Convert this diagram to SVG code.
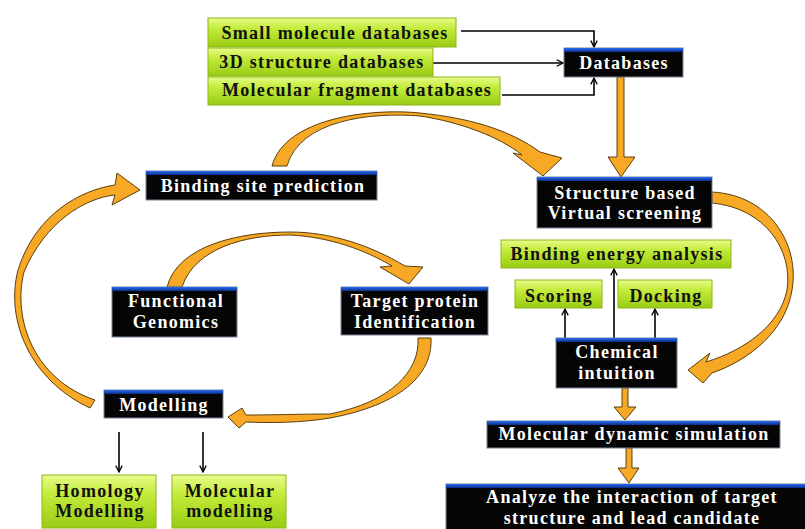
<svg xmlns="http://www.w3.org/2000/svg" width="805" height="529" viewBox="0 0 805 529">
<defs>
<linearGradient id="gG" x1="0" y1="0" x2="0" y2="1">
<stop offset="0" stop-color="#e8fc8c"/>
<stop offset="0.35" stop-color="#c4ec3c"/>
<stop offset="1" stop-color="#99cc12"/>
</linearGradient>
<linearGradient id="gB" x1="0" y1="0" x2="0" y2="1">
<stop offset="0" stop-color="#2a6ff0"/>
<stop offset="1" stop-color="#0a2c8a"/>
</linearGradient>
<marker id="ah" viewBox="0 0 10 10" refX="9" refY="5" markerWidth="8" markerHeight="8" markerUnits="userSpaceOnUse" orient="auto">
<path d="M1,1 L9,5 L1,9" fill="none" stroke="#000" stroke-width="1.6"/>
</marker>
</defs>
<style>
.g rect.b{fill:url(#gG);stroke:#8fb51a;stroke-width:1}
.k rect.b{fill:#050505;stroke:#7a8699;stroke-width:1}
.k rect.t{fill:url(#gB)}
.g text{font-family:"Liberation Serif","Times New Roman",serif;font-weight:bold;font-size:18px;fill:#111;text-anchor:middle;letter-spacing:1.3px}
.k text{font-family:"Liberation Serif","Times New Roman",serif;font-weight:bold;font-size:18px;fill:#fff;text-anchor:middle;letter-spacing:1.3px}
.ln{fill:none;stroke:#000;stroke-width:1.6;marker-end:url(#ah)}
.or{fill:#f7a825;stroke:#4a3000;stroke-width:0.9;stroke-linejoin:round}
</style>
<rect width="805" height="529" fill="#fff"/>

<g id="connectors">
<path class="ln" d="M461,31 H594 V47"/>
<path class="ln" d="M433,63 H563"/>
<path class="ln" d="M502,95 H594 V78"/>
<path class="ln" d="M565,338 V309"/>
<path class="ln" d="M614,338 V269"/>
<path class="ln" d="M655,338 V309"/>
<path class="ln" d="M119,432 V472"/>
<path class="ln" d="M203,432 V472"/>
<path class="or" d="M617,77 H624 V157 H635 L621,177 L608,157 H617 Z"/>
<path class="or" d="M622,388 H628 V407 H636 L625,420 L614,407 H622 Z"/>
<path class="or" d="M626,448 H632 V468 H639 L629,483 L618,468 H626 Z"/>
<path class="or" d="M272,166 C285,118 370,108 420,113 C470,118 510,130 540,152 L562,158 L543,176 L513,153 L522,155 C500,137 460,122 420,116 C370,112 300,120 287,166 Z"/>
<path class="or" d="M167,287 C178,245 240,232 290,232 C330,232 370,245 405,266 L423,267 L409,284 L380,267 L392,266 C365,250 330,237 290,235 C245,235 195,248 182,287 Z"/>
<path class="or" d="M712,192 C770,195 800,245 792,290 C786,330 750,360 712,373 L703,383 L688,370 L710,353 L706,362 C745,350 780,325 787,290 C793,250 765,208 712,203 Z"/>
<path class="or" d="M418,338 L431,338 C433,375 400,405 330,418 C300,423 270,423 246,422 L239,428 L228,417 L242,408 L246,415 C275,415 300,414 330,414 C390,402 420,372 418,338 Z"/>
<path class="or" d="M90,408 C30,380 5,320 18,270 C35,215 80,190 115,185 L117,173 L140,190 L112,205 L115,195 C85,198 45,222 24,272 C12,320 35,380 95,400 Z"/>
</g>

<g id="n-small" class="g"><rect class="b" x="208" y="18" width="248" height="29"/><text x="335" y="39">Small molecule databases</text></g>
<g id="n-3d" class="g"><rect class="b" x="208" y="48" width="225" height="28"/><text x="322" y="68">3D structure databases</text></g>
<g id="n-frag" class="g"><rect class="b" x="208" y="77" width="292" height="28"/><text x="357" y="96">Molecular fragment databases</text></g>
<g id="n-db" class="k"><rect class="b" x="564" y="48" width="119" height="29"/><rect class="t" x="564" y="48" width="119" height="4"/><text x="624" y="69">Databases</text></g>
<g id="n-bsp" class="k"><rect class="b" x="146" y="171" width="231" height="29"/><rect class="t" x="146" y="171" width="231" height="4"/><text x="263" y="192">Binding site prediction</text></g>
<g id="n-sbvs" class="k"><rect class="b" x="537" y="177" width="175" height="51"/><rect class="t" x="537" y="177" width="175" height="4"/><text x="625" y="199">Structure based</text><text x="625" y="219">Virtual screening</text></g>
<g id="n-bea" class="g"><rect class="b" x="501" y="240" width="230" height="28"/><text x="617" y="260">Binding energy analysis</text></g>
<g id="n-scoring" class="g"><rect class="b" x="515" y="280" width="87" height="28"/><text x="559" y="302">Scoring</text></g>
<g id="n-docking" class="g"><rect class="b" x="618" y="280" width="94" height="28"/><text x="666" y="302">Docking</text></g>
<g id="n-chem" class="k"><rect class="b" x="556" y="338" width="121" height="50"/><rect class="t" x="556" y="338" width="121" height="4"/><text x="617" y="358">Chemical</text><text x="617" y="379">intuition</text></g>
<g id="n-func" class="k"><rect class="b" x="112" y="287" width="125" height="50"/><rect class="t" x="112" y="287" width="125" height="4"/><text x="176" y="307">Functional</text><text x="176" y="328">Genomics</text></g>
<g id="n-target" class="k"><rect class="b" x="341" y="287" width="147" height="48"/><rect class="t" x="341" y="287" width="147" height="4"/><text x="415" y="307">Target protein</text><text x="415" y="328">Identification</text></g>
<g id="n-model" class="k"><rect class="b" x="104" y="390" width="119" height="28"/><rect class="t" x="104" y="390" width="119" height="4"/><text x="164" y="411">Modelling</text></g>
<g id="n-homology" class="g"><rect class="b" x="42" y="475" width="114" height="53"/><text x="100" y="497">Homology</text><text x="100" y="517">Modelling</text></g>
<g id="n-molmod" class="g"><rect class="b" x="172" y="475" width="114" height="53"/><text x="230" y="497">Molecular</text><text x="230" y="517">modelling</text></g>
<g id="n-md" class="k"><rect class="b" x="487" y="421" width="293" height="27"/><rect class="t" x="487" y="421" width="293" height="4"/><text x="634" y="440">Molecular dynamic simulation</text></g>
<g id="n-analyze" class="k"><rect class="b" x="446" y="484" width="362" height="50"/><rect class="t" x="446" y="484" width="362" height="4"/><text x="632" y="503">Analyze the interaction of target</text><text x="632" y="524">structure and lead candidate</text></g>
</svg>
